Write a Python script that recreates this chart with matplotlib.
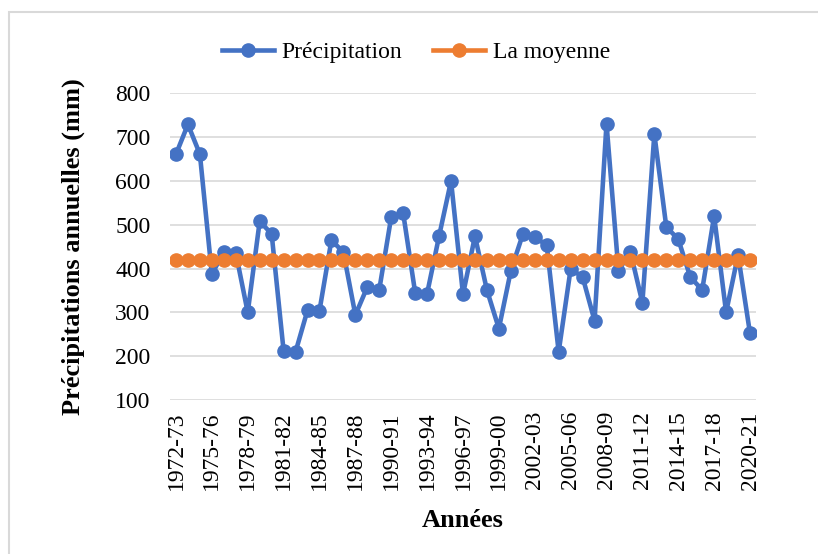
import matplotlib
matplotlib.use("Agg")
import matplotlib.pyplot as plt
from matplotlib.patches import Rectangle

# hydrological years 1972-73 .. 2020-21
years = [f"{y}-{str(y + 1)[-2:]}" for y in range(1972, 2021)]

precip = [661, 729, 661, 387, 438, 436, 300, 508, 479, 212,
          210, 305, 304, 465, 437, 294, 358, 352, 518, 526,
          345, 343, 474, 600, 341, 474, 351, 263, 395, 478,
          471, 454, 210, 399, 381, 281, 731, 395, 438, 322,
          707, 495, 467, 381, 351, 520, 300, 431, 252]

mean_val = [420] * len(years)

blue = "#4472C4"
orange = "#ED7D31"

plt.rcParams['font.family'] = ['Liberation Serif', 'DejaVu Serif']

fig = plt.figure(figsize=(8.18, 5.54), dpi=100)
ax = fig.add_axes([170 / 818, 1 - 400 / 554, 586 / 818, (400 - 93.3) / 554])

x = list(range(len(years)))
ax.plot(x, precip, color=blue, lw=3.3, marker='o', ms=9.5, label='Précipitation', zorder=3)
ax.plot(x, mean_val, color=orange, lw=3.3, marker='o', ms=9.5, label='La moyenne', zorder=4)

ax.set_xlim(-0.5, len(years) - 0.5)
ax.set_ylim(100, 800)
ax.set_yticks(range(100, 801, 100))
ax.set_xticks(x[::3])
ax.set_xticklabels(years[::3], rotation=90)
ax.tick_params(axis='both', length=0, labelsize=17, colors='black')
ax.tick_params(axis='y', pad=14)
ax.tick_params(axis='x', pad=8)
ax.grid(axis='y', color='#D9D9D9', lw=1.2)
ax.set_axisbelow(True)
for s in ax.spines.values():
    s.set_visible(False)

ax.set_ylabel('Précipitations annuelles (mm)', fontsize=19, fontweight='bold', labelpad=22)
ax.set_xlabel('Années', fontsize=19, fontweight='bold', labelpad=14)

ax.legend(loc='lower center', bbox_to_anchor=(0.42, 1.03), ncol=2, frameon=False,
          fontsize=17, handlelength=2.2, columnspacing=1.3, handletextpad=0.35)

# light grey chart border
fig.patches.append(Rectangle((9 / 818, -0.1), 1.2, 1 - 12 / 554 + 0.1,
                             transform=fig.transFigure, fill=False,
                             edgecolor='#D9D9D9', lw=1.5))

fig.savefig('out.png', dpi=100)
